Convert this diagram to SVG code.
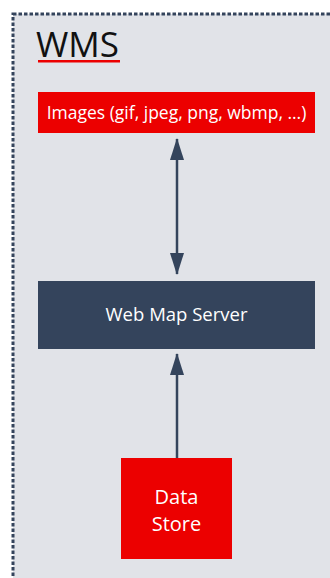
<svg xmlns="http://www.w3.org/2000/svg" width="330" height="578" viewBox="0 0 330 578">
  <defs>
    <style>
      .frame { fill: #e1e3e8; stroke: #34445c; stroke-width: 3; stroke-dasharray: 3.5 2; }
      .red { fill: #ec0000; }
      .navy { fill: #34445c; }
      .lbl { font-family: "Open Sans", "Liberation Sans", sans-serif; fill: #ffffff; text-anchor: middle; }
      .link { stroke: #34445c; stroke-width: 2.5; fill: none; }
    </style>
    <marker id="arr" viewBox="0 0 22 14" refX="21" refY="7" markerWidth="22" markerHeight="14" markerUnits="userSpaceOnUse" orient="auto-start-reverse">
      <path d="M0,0 L22,7 L0,14 Z" fill="#34445c"/>
    </marker>
  </defs>

  <rect width="330" height="578" fill="#ffffff"/>
  <!-- dashed container, running off the right and bottom edges -->
  <rect class="frame" x="13" y="14" width="340" height="590"/>

  <g id="title">
    <text x="36" y="57" font-family="'Open Sans', 'Liberation Sans', sans-serif" font-size="35" fill="#111111">WMS</text>
    <rect x="38" y="60" width="82" height="2.5" fill="#ec0000"/>
  </g>

  <g id="connectors">
    <line class="link" x1="177" y1="139" x2="177" y2="274" marker-start="url(#arr)" marker-end="url(#arr)"/>
    <line class="link" x1="177" y1="458" x2="177" y2="354" marker-end="url(#arr)"/>
  </g>

  <g id="images">
    <rect class="red" x="38" y="92" width="277" height="41"/>
    <text class="lbl" x="176.5" y="119" font-size="17.5">Images (gif, jpeg, png, wbmp, …)</text>
  </g>

  <g id="web-map-server">
    <rect class="navy" x="38" y="281" width="277" height="68"/>
    <text class="lbl" x="176.5" y="321" font-size="18.5">Web Map Server</text>
  </g>

  <g id="data-store">
    <rect class="red" x="121" y="458" width="111" height="101"/>
    <text class="lbl" x="176.5" y="504" font-size="20">Data</text>
    <text class="lbl" x="176.5" y="531" font-size="20">Store</text>
  </g>
</svg>
